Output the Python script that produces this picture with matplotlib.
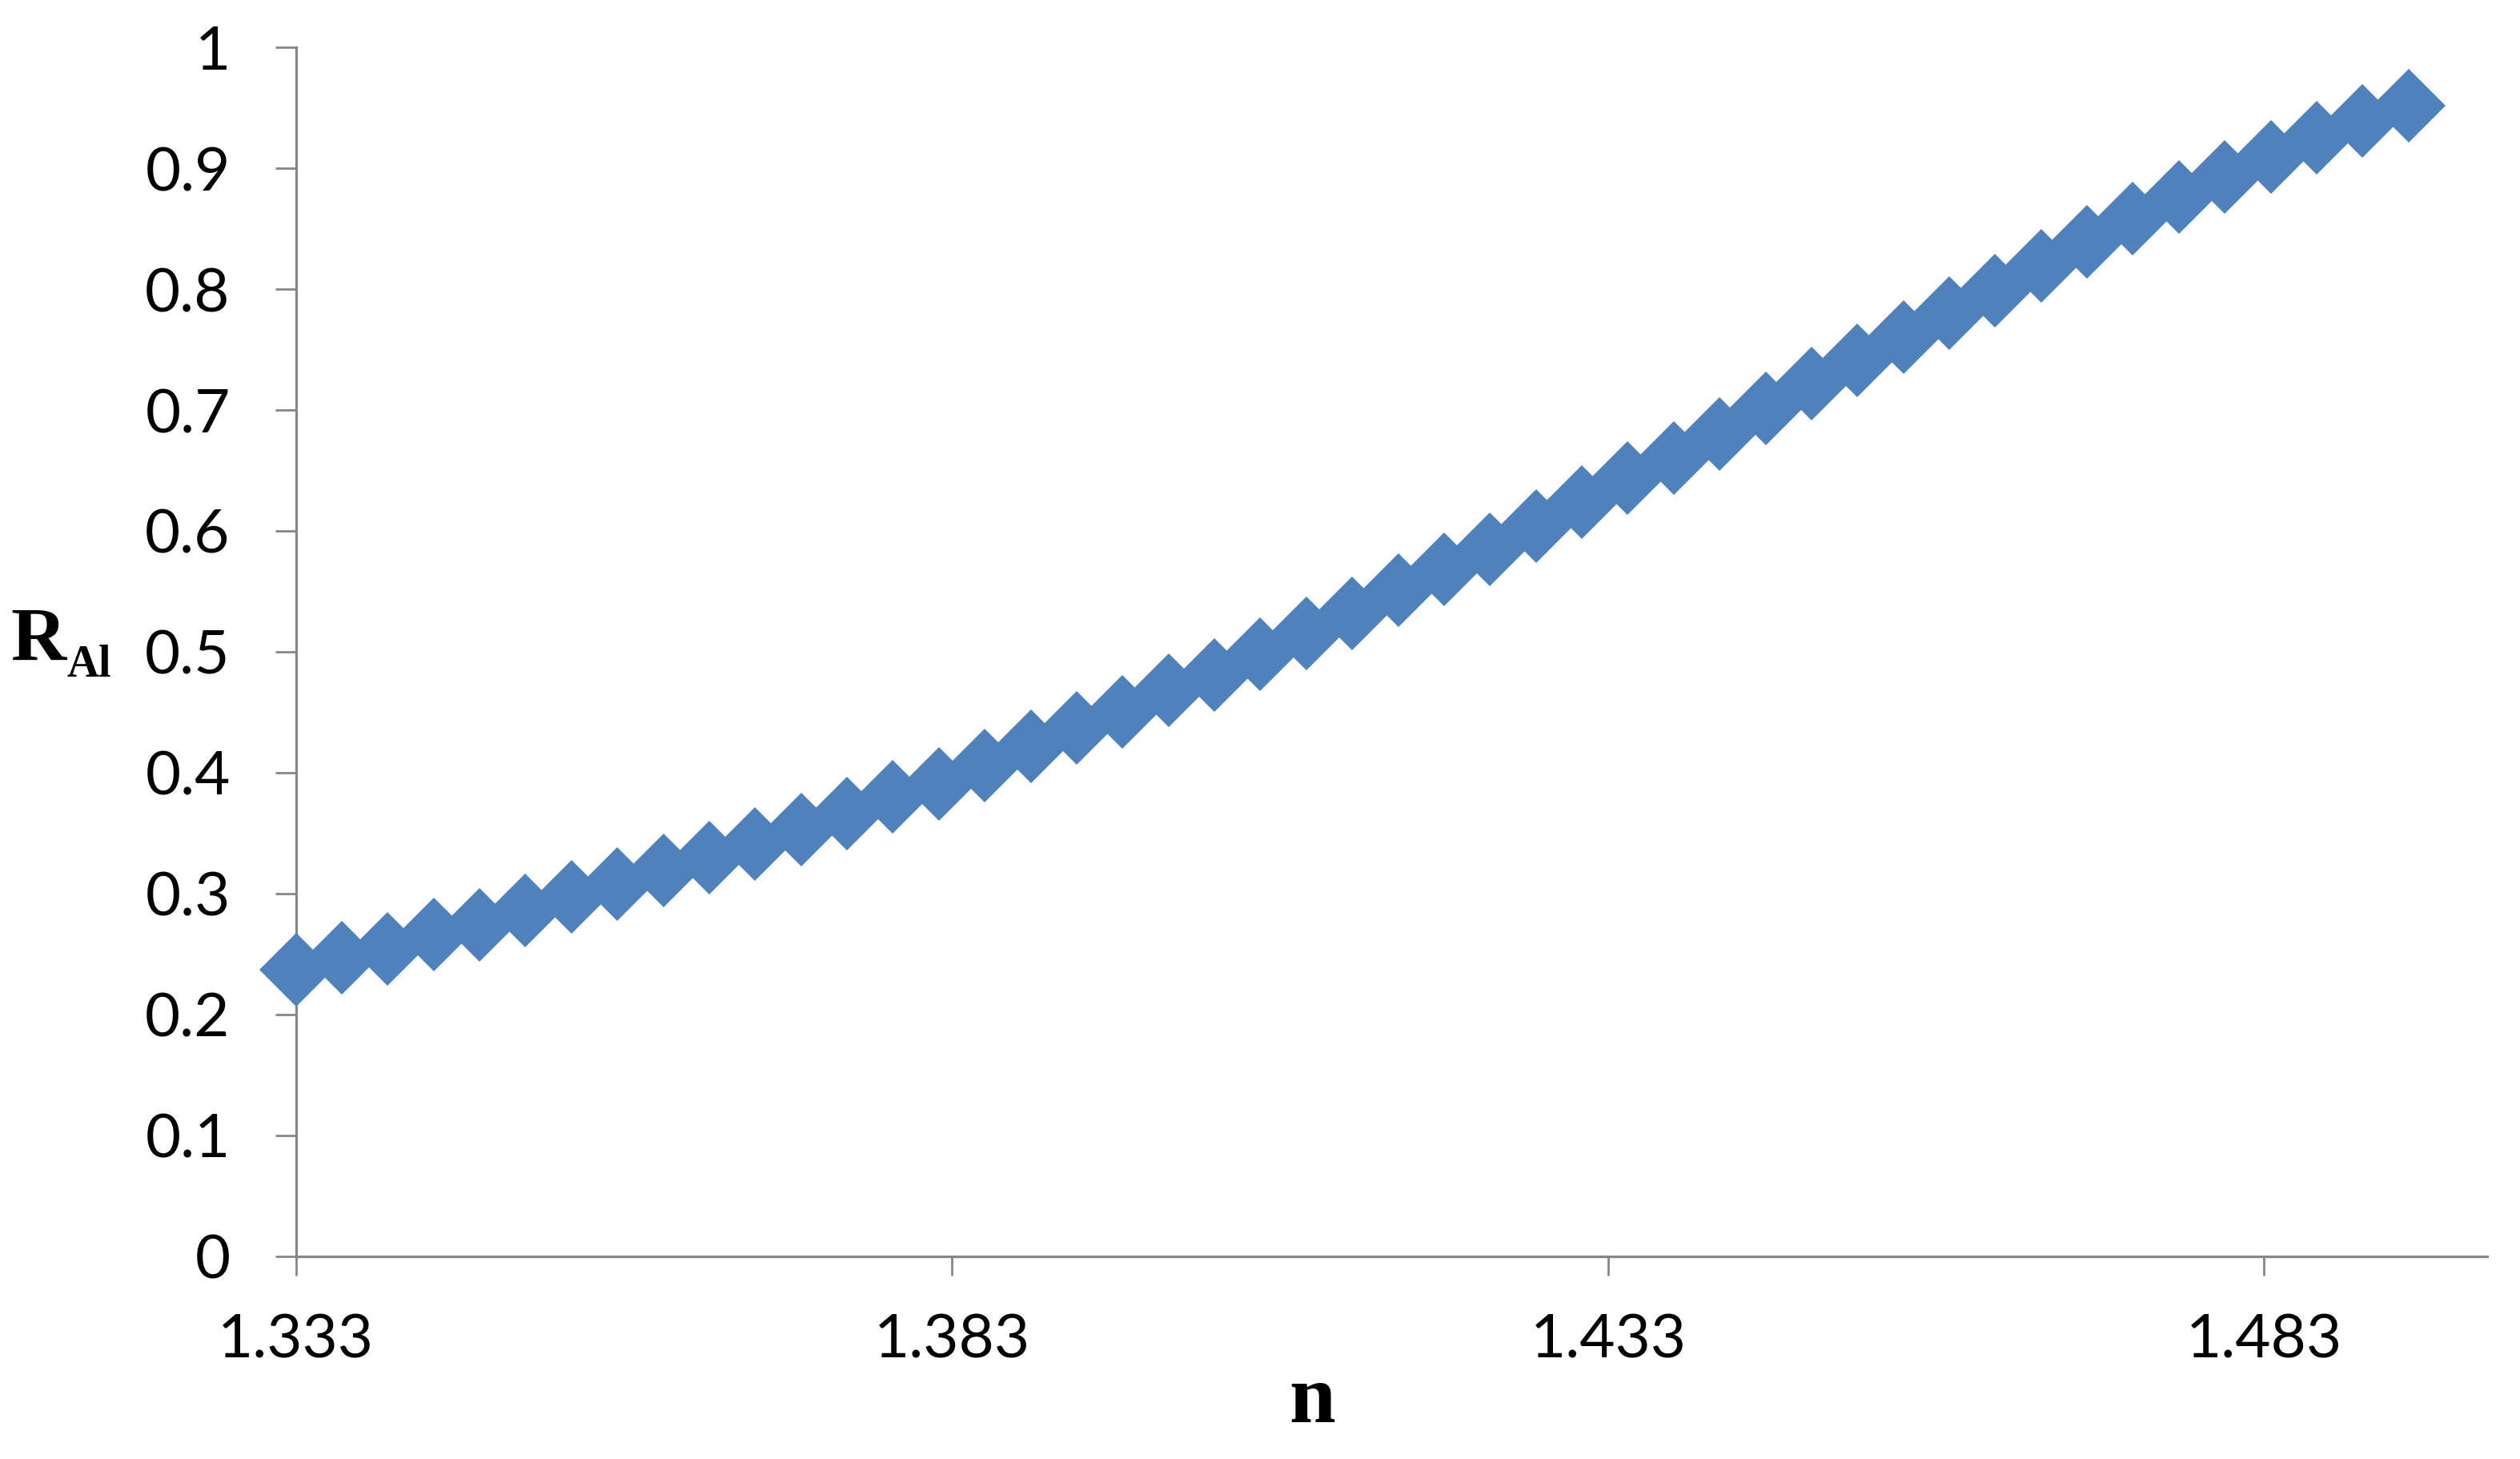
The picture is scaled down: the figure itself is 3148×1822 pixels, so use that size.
import matplotlib
matplotlib.use("Agg")
import matplotlib.pyplot as plt
import numpy as np

# refractive index n and R_Al
n_values = [1.333, 1.3365, 1.340, 1.3435, 1.347, 1.3505, 1.354, 1.3575,
            1.361, 1.3645, 1.368, 1.3715, 1.375, 1.3785, 1.382, 1.3855,
            1.389, 1.3925, 1.396, 1.3995, 1.403, 1.4065, 1.410, 1.4135,
            1.417, 1.4205, 1.424, 1.4275, 1.431, 1.4345, 1.438, 1.4415,
            1.445, 1.4485, 1.452, 1.4555, 1.459, 1.4625, 1.466, 1.4695,
            1.473, 1.4765, 1.480, 1.4835, 1.487, 1.4905, 1.494]
r_al = [0.237, 0.247, 0.254, 0.266, 0.274, 0.286, 0.297, 0.308,
        0.319, 0.330, 0.341, 0.353, 0.366, 0.380, 0.391, 0.406,
        0.422, 0.437, 0.450, 0.468, 0.481, 0.498, 0.515, 0.532,
        0.551, 0.568, 0.585, 0.604, 0.624, 0.644, 0.660, 0.680,
        0.701, 0.722, 0.741, 0.760, 0.780, 0.799, 0.819, 0.839,
        0.858, 0.876, 0.893, 0.909, 0.925, 0.939, 0.952]

x_ticks = [1.333, 1.383, 1.433, 1.483]
x_tick_labels = ["1.333", "1.383", "1.433", "1.483"]
y_ticks = [0, 0.1, 0.2, 0.3, 0.4, 0.5, 0.6, 0.7, 0.8, 0.9, 1]
y_tick_labels = ["0", "0.1", "0.2", "0.3", "0.4", "0.5", "0.6", "0.7", "0.8", "0.9", "1"]

fig = plt.figure(figsize=(31.48, 18.22), dpi=100)
ax = fig.add_axes([0.1174, 0.1389, 0.8696, 0.8287])

ax.plot(n_values, r_al, linestyle="-", color="#4F81BD", linewidth=4,
        marker="D", markersize=47, markeredgewidth=0,
        clip_on=False, zorder=5)

ax.set_xlim(1.333, 1.5)
ax.set_ylim(0, 1)

axis_grey = "#868686"
for side in ["top", "right"]:
    ax.spines[side].set_visible(False)
for side in ["left", "bottom"]:
    ax.spines[side].set_color(axis_grey)
    ax.spines[side].set_linewidth(2.3)

ax.set_xticks(x_ticks)
ax.set_xticklabels(x_tick_labels)
ax.set_yticks(y_ticks)
ax.set_yticklabels(y_tick_labels)

ax.tick_params(axis="y", direction="out", length=19, width=2, color=axis_grey,
               pad=40, labelsize=55, labelcolor="black")
ax.tick_params(axis="x", direction="out", length=17, width=2, color=axis_grey,
               pad=34, labelsize=55, labelcolor="black")
for lab in ax.get_xticklabels() + ax.get_yticklabels():
    lab.set_fontfamily("Lato")

# axis titles
fig.text(0.5207, 0.0252, "n", ha="center", va="baseline",
         family="Liberation Serif", weight="bold", fontsize=75)
fig.text(0.0041, 0.5472, "R", ha="left", va="baseline",
         family="Liberation Serif", weight="bold", fontsize=69)
fig.text(0.0264, 0.5362, "Al", ha="left", va="baseline",
         family="Liberation Serif", weight="bold", fontsize=40)

fig.savefig("out.png", dpi=100)
